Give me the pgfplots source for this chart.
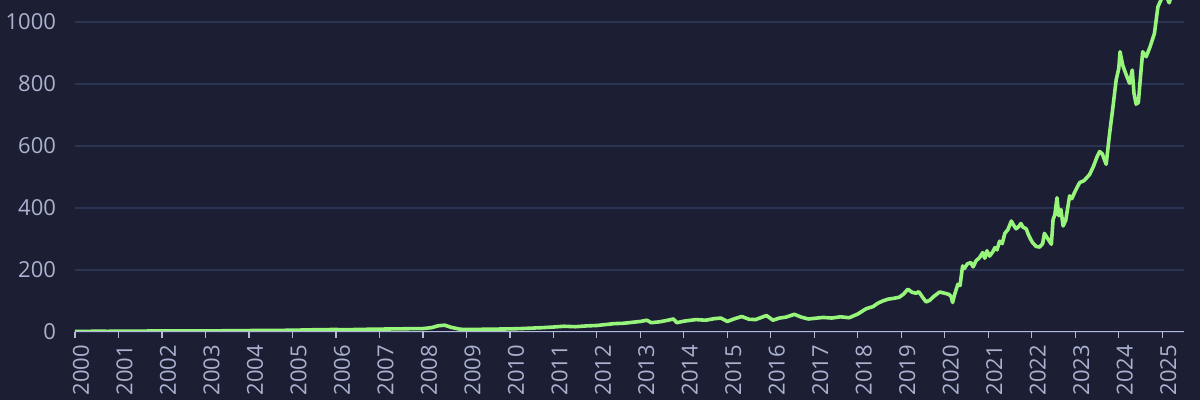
\documentclass[border=0pt]{standalone}
\usepackage{fontspec}
\setmainfont{Open Sans}
\usepackage{pgfplots}
\pgfplotsset{compat=1.18}
\usetikzlibrary{backgrounds,calc}

\definecolor{bg}{RGB}{28,31,51}
\definecolor{gridc}{RGB}{44,52,86}
\definecolor{txt}{RGB}{170,178,208}
\definecolor{axc}{RGB}{180,186,212}
\definecolor{linec}{RGB}{152,245,124}

\pgfplotstableread{
year value
2000.00 1.5
2000.25 2.0
2000.50 2.5
2000.75 2.2
2001.00 2.6
2001.25 3.0
2001.50 2.8
2001.75 3.2
2002.00 3.5
2002.25 3.8
2002.50 3.4
2002.75 3.6
2003.00 3.3
2003.25 3.7
2003.50 4.0
2003.75 4.3
2004.00 4.6
2004.25 5.0
2004.50 4.8
2004.75 5.4
2005.00 5.6
2005.25 6.5
2005.50 7.2
2005.75 7.8
2006.00 8.0
2006.25 7.4
2006.50 8.2
2006.75 8.8
2007.00 9.3
2007.25 9.8
2007.50 10.2
2007.75 10.8
2008.00 11.0
2008.20 14
2008.35 20
2008.50 22
2008.65 15
2008.85 9
2009.00 8
2009.25 8.5
2009.50 9
2009.75 9.5
2010.00 10
2010.25 11
2010.50 12.5
2010.75 14
2011.00 16
2011.25 18.5
2011.50 17
2011.75 19.5
2012.00 21
2012.20 24
2012.40 27
2012.60 28
2012.80 31
2013.00 34
2013.15 38
2013.25 30
2013.45 33
2013.60 37
2013.76 42
2013.84 30
2014.00 35
2014.28 40
2014.50 38
2014.70 43
2014.85 45
2015.00 34
2015.15 42
2015.33 50
2015.50 41
2015.65 40
2015.80 48
2015.90 53
2016.05 38
2016.20 45
2016.35 48
2016.54 57
2016.70 48
2016.86 42
2017.00 44
2017.20 47
2017.40 45
2017.60 49
2017.80 46
2018.00 58
2018.19 75
2018.35 82
2018.45 92
2018.57 100
2018.70 106
2018.80 108
2018.95 112
2019.05 122
2019.15 138
2019.25 128
2019.34 125
2019.40 130
2019.50 110
2019.57 97
2019.65 102
2019.75 115
2019.88 129
2020.00 125
2020.10 121
2020.15 113
2020.18 95
2020.22 118
2020.30 154
2020.35 150
2020.41 213
2020.45 205
2020.52 220
2020.60 224
2020.65 210
2020.72 230
2020.80 240
2020.87 256
2020.92 238
2020.97 262
2021.03 245
2021.10 258
2021.15 272
2021.20 265
2021.26 293
2021.32 285
2021.38 318
2021.45 330
2021.53 358
2021.58 345
2021.64 333
2021.70 340
2021.75 350
2021.80 338
2021.87 333
2021.92 315
2021.97 300
2022.02 288
2022.10 276
2022.18 274
2022.25 285
2022.29 318
2022.35 305
2022.45 283
2022.49 363
2022.53 378
2022.58 433
2022.62 375
2022.67 395
2022.72 342
2022.78 360
2022.87 439
2022.92 430
2023.00 455
2023.10 482
2023.20 488
2023.33 508
2023.42 535
2023.50 565
2023.56 582
2023.62 575
2023.71 541
2023.79 641
2023.87 730
2023.94 813
2024.00 850
2024.03 904
2024.09 861
2024.17 830
2024.25 802
2024.31 845
2024.35 770
2024.40 735
2024.45 740
2024.50 824
2024.55 904
2024.63 888
2024.72 920
2024.82 963
2024.90 1049
2024.97 1071
2025.05 1090
2025.12 1075
2025.16 1062
2025.22 1090
}\series

\begin{document}
\begin{tikzpicture}
\begin{axis}[
    name=ax,
    scale only axis,
    width=554.5pt, height=166pt,
    xmin=2000, xmax=2025.5,
    ymin=0, ymax=1071,
    axis line style={draw=none},
    axis x line*=bottom,
    axis y line*=left,
    xtick={2000,2001,...,2025},
    ytick={0,200,400,600,800,1000},
    xticklabel={\pgfmathprintnumber[precision=0,1000 sep={}]{\tick}},
    yticklabel={\pgfmathprintnumber[precision=0,1000 sep={}]{\tick}},
    /pgf/number format/assume math mode=true,
    ymajorgrids,
    major grid style={gridc, line width=0.6pt},
    xtick style={axc, line width=0.6pt},
    ytick style={draw=none},
    xtick align=outside,
    major tick length=3pt,
    tick label style={font=\fontsize{11}{13}\selectfont, text=txt},
    xticklabel style={rotate=90, anchor=east, yshift=-3pt},
    yticklabel style={xshift=-6pt},
    clip=true,
]
\addplot[linec, line width=1.8pt, line join=round] table[x=year, y=value] {\series};
\draw[axc, line width=0.8pt] (rel axis cs:0,0) -- (rel axis cs:1,0);
\end{axis}
\begin{scope}[on background layer]
\fill[bg] ($(ax.south west)+(-37.5pt,-34pt)$) rectangle ($(ax.north east)+(8pt,0pt)$);
\end{scope}
\pgfresetboundingbox
\path[use as bounding box] ($(ax.south west)+(-37.5pt,-34pt)$) rectangle ($(ax.north east)+(8pt,0pt)$);
\end{tikzpicture}
\end{document}
